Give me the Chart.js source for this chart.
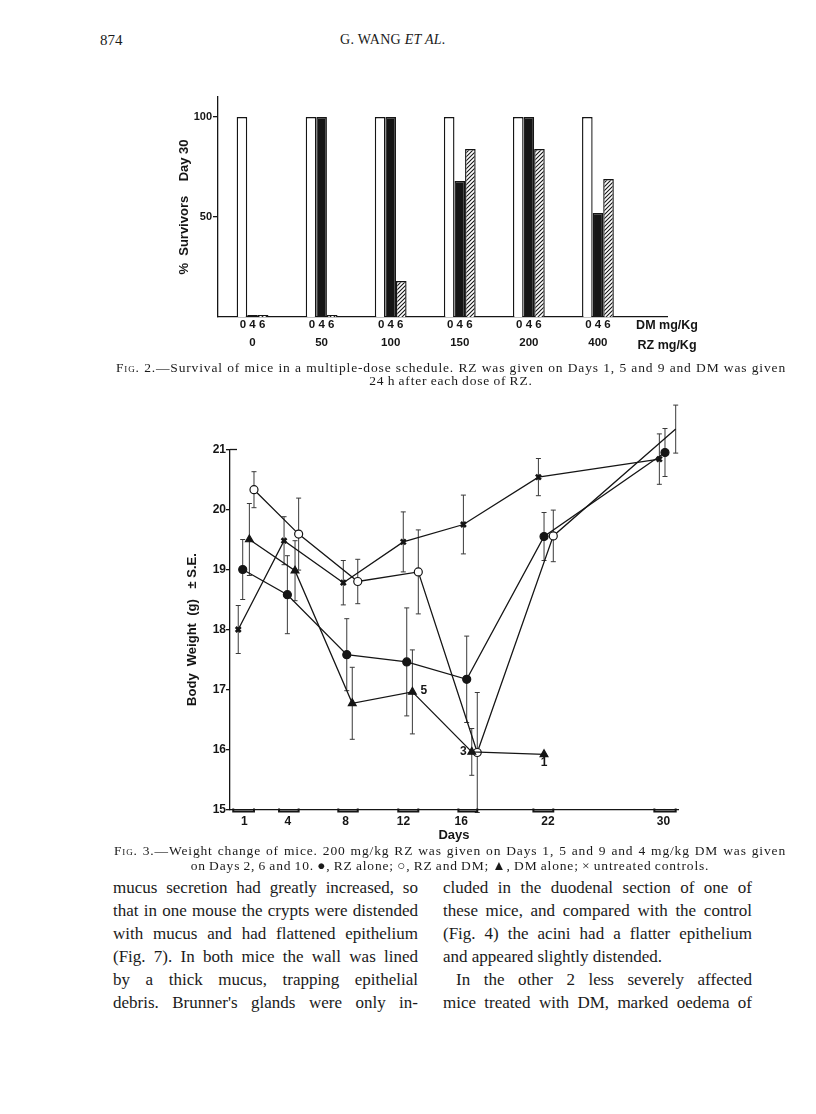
<!DOCTYPE html>
<html>
<head>
<meta charset="utf-8">
<script src="https://cdn.jsdelivr.net/npm/chart.js@4.4.1/dist/chart.umd.min.js"></script>
<style>
  html, body { margin: 0; padding: 0; background: #fff; }
  body { width: 816px; height: 1114px; position: relative; overflow: hidden;
         font-family: "Liberation Serif", "DejaVu Serif", serif; color: #1a1a1a; }
  canvas { position: absolute; }
  .t { position: absolute; white-space: nowrap; }
  .cap { position: absolute; font-size: 13.5px; line-height: 14px; letter-spacing: 0.85px; word-spacing: -1px; }
  .just { text-align: justify; text-align-last: justify; }
  .body { position: absolute; font-size: 17px; line-height: 23px; }
  .body div { text-align: justify; text-align-last: justify; }
  .sc { font-variant: small-caps; }
</style>
</head>
<body>

<div class="t" style="left:100px; top:32px; font-size:15px;">874</div>
<div class="t" style="left:340px; top:32px; font-size:14px; letter-spacing:0.3px;">G. WANG <i>ET AL.</i></div>

<canvas id="fig2" width="560" height="280" style="left:170px; top:85px;"></canvas>

<div class="cap just" style="left:116px; top:361px; width:670px;"><span class="sc">Fig.</span> 2.—Survival of mice in a multiple-dose schedule. RZ was given on Days 1, 5 and 9 and DM was given</div>
<div class="cap" style="left:116px; top:374px; width:670px; text-align:center;">24 h after each dose of RZ.</div>

<canvas id="fig3" width="560" height="455" style="left:150px; top:390px;"></canvas>

<div class="cap just" style="left:114px; top:844px; width:672px;"><span class="sc">Fig.</span> 3.—Weight change of mice. 200 mg/kg RZ was given on Days 1, 5 and 9 and 4 mg/kg DM was given</div>
<div class="cap" style="left:114px; top:859px; width:672px; text-align:center;">on Days 2, 6 and 10. ●, RZ alone; ○, RZ and DM; ▲, DM alone; × untreated controls.</div>

<div class="body" style="left:113px; top:876px; width:305px;">
  <div>mucus secretion had greatly increased, so</div>
  <div>that in one mouse the crypts were distended</div>
  <div>with mucus and had flattened epithelium</div>
  <div>(Fig. 7). In both mice the wall was lined</div>
  <div>by a thick mucus, trapping epithelial</div>
  <div>debris. Brunner's glands were only in-</div>
</div>
<div class="body" style="left:443px; top:876px; width:309px;">
  <div>cluded in the duodenal section of one of</div>
  <div>these mice, and compared with the control</div>
  <div>(Fig. 4) the acini had a flatter epithelium</div>
  <div style="text-align-last:left;">and appeared slightly distended.</div>
  <div style="padding-left:13px;">In the other 2 less severely affected</div>
  <div>mice treated with DM, marked oedema of</div>
</div>

<script>
// Fig. 2 — % survivors on day 30
const rzDoses = ["0", "50", "100", "150", "200", "400"];
const dmDoses = ["0", "4", "6"];
const survDm0 = [100, 100, 100, 100, 100, 100];
const survDm4 = [0, 100, 100, 68, 100, 52];
const survDm6 = [0, 0, 18, 84, 84, 69];
const survTicks = [50, 100];

// Fig. 3 — body weight (g) by day
const days = [1, 4, 8, 12, 16, 22, 30];
const weightTicks = [15, 16, 17, 18, 19, 20, 21];
// points are staggered around each day in the original, these are the plotted day positions
const ctrlX = [0.57, 3.74, 7.84, 11.99, 16.15, 21.34, 29.71];
const ctrlW = [18.0, 19.48, 18.78, 19.46, 19.75, 20.54, 20.84];
const ctrlSE = [0.4, 0.4, 0.37, 0.5, 0.49, 0.31, 0.42];
const rzX = [0.88, 3.97, 8.08, 12.23, 16.38, 21.73, 30.10];
const rzW = [19.0, 18.58, 17.58, 17.46, 17.17, 19.55, 20.95];
const rzSE = [0.5, 0.65, 0.6, 0.9, 0.72, 0.4, 0.4];
const dmX = [1.34, 4.50, 8.46, 12.62, 16.73, 21.73];
const dmW = [19.5, 18.98, 16.77, 16.96, 15.96, 15.92];
const dmSE = [0.6, 0.5, 0.6, 0.7, 0.39, 0];
const dmN = ["", "", "", "5", "3", "1"];
const rzDmX = [1.66, 4.75, 8.84, 13.03, 17.11, 22.37, 30.84];
const rzDmW = [20.33, 19.59, 18.8, 18.96, 15.95, 19.56, 21.34];
const rzDmSE = [0.3, 0.6, 0.37, 0.7, 1.0, 0.43, 0.4];

const ink = "#151515";
const sansBold = (size, lineHeight) => ({ family: "Liberation Sans", weight: "bold", size, lineHeight });

function hatchPattern() {
    const c = document.createElement("canvas");
    c.width = 4; c.height = 4;
    const g = c.getContext("2d");
    g.fillStyle = "#fff";
    g.fillRect(0, 0, 4, 4);
    g.strokeStyle = ink;
    g.lineWidth = 1.1;
    g.beginPath();
    g.moveTo(0, 4); g.lineTo(4, 0);
    g.moveTo(-1, 1); g.lineTo(1, -1);
    g.moveTo(3, 5); g.lineTo(5, 3);
    g.stroke();
    return g.createPattern(c, "repeat");
}

function bars(values, fill) {
    return {
        data: values.map((v, i) => ({ x: i, y: v })),
        backgroundColor: fill,
        borderColor: ink,
        borderWidth: 1.4,
        barPercentage: 1,
        categoryPercentage: 0.46,
        minBarLength: 2
    };
}

new Chart(document.getElementById("fig2"), {
    type: "bar",
    data: {
        datasets: [
            bars(survDm0, "#fff"),
            bars(survDm4, ink),
            bars(survDm6, hatchPattern())
        ]
    },
    options: {
        responsive: false,
        animation: false,
        layout: { padding: { top: 12, right: 63, bottom: 0, left: 0 } },
        plugins: { legend: { display: false }, tooltip: { enabled: false } },
        scales: {
            x: {
                type: "linear",
                min: -0.5,
                max: 6,
                offset: false,
                afterBuildTicks: s => { s.ticks = [0, 1, 2, 3, 4, 5, 6].map(v => ({ value: v })); },
                afterFit: s => { s.height = 48; },
                grid: { display: false },
                border: { color: ink, width: 1.3 },
                ticks: {
                    color: ink,
                    autoSkip: false,
                    maxRotation: 0,
                    padding: -9,
                    font: c => sansBold(c.tick && c.tick.value === 6 ? 12.5 : 11.5, 1.55),
                    callback: v => v < rzDoses.length
                        ? [dmDoses.join(" "), rzDoses[v]]
                        : ["DM mg/Kg", "RZ mg/Kg"]
                }
            },
            y: {
                min: 0,
                max: 110,
                afterBuildTicks: s => { s.ticks = survTicks.map(v => ({ value: v })); },
                afterFit: s => { s.width = 48; },
                border: { color: ink, width: 1.3 },
                grid: { drawOnChartArea: false, color: ink, lineWidth: 1.3, tickLength: 5 },
                ticks: { color: ink, padding: 1, font: sansBold(11) },
                title: {
                    display: true,
                    text: "%  Survivors    Day 30",
                    color: ink,
                    font: sansBold(13),
                    padding: { top: 7, bottom: 0 }
                }
            }
        }
    }
});

// error bars (± S.E.) under the markers
const seBars = {
    id: "seBars",
    beforeDatasetsDraw(chart) {
        const { ctx, scales: { y } } = chart;
        ctx.save();
        ctx.strokeStyle = "#3a3a3a";
        ctx.lineWidth = 1;
        chart.data.datasets.forEach((ds, di) => {
            chart.getDatasetMeta(di).data.forEach((pt, i) => {
                const se = ds.se[i];
                if (!se) return;
                const v = ds.data[i].y;
                const top = y.getPixelForValue(v + se);
                const bottom = y.getPixelForValue(v - se);
                ctx.beginPath();
                ctx.moveTo(pt.x, top); ctx.lineTo(pt.x, bottom);
                ctx.moveTo(pt.x - 2.5, top); ctx.lineTo(pt.x + 2.5, top);
                ctx.moveTo(pt.x - 2.5, bottom); ctx.lineTo(pt.x + 2.5, bottom);
                ctx.stroke();
            });
        });
        ctx.restore();
    }
};

// brackets on the day axis, group counts for DM alone, top cap of the y axis
const dayMarks = {
    id: "dayMarks",
    afterDraw(chart) {
        const { ctx, chartArea, scales: { y } } = chart;
        const base = chartArea.bottom;
        ctx.save();
        ctx.strokeStyle = ink;
        ctx.lineWidth = 2;
        days.forEach((d, i) => {
            const xs = [];
            chart.data.datasets.forEach((ds, di) => {
                const pt = chart.getDatasetMeta(di).data[i];
                if (pt) xs.push(pt.x);
            });
            const x0 = Math.min(...xs) - 5;
            const x1 = Math.max(...xs);
            ctx.beginPath();
            ctx.moveTo(x0, base - 1); ctx.lineTo(x0, base + 2);
            ctx.lineTo(x1, base + 2); ctx.lineTo(x1, base - 1);
            ctx.stroke();
        });

        ctx.lineWidth = 1.3;
        ctx.beginPath();
        ctx.moveTo(chartArea.left, y.getPixelForValue(21));
        ctx.lineTo(chartArea.left + 7, y.getPixelForValue(21));
        ctx.stroke();

        const dmIndex = chart.data.datasets.findIndex(ds => ds.label === "DM alone");
        const place = { 3: [8, -1, "left"], 4: [-5, 0, "right"], 5: [0, 8, "center"] };
        ctx.fillStyle = ink;
        ctx.font = "bold 12px 'Liberation Sans'";
        ctx.textBaseline = "middle";
        chart.getDatasetMeta(dmIndex).data.forEach((pt, i) => {
            if (!dmN[i]) return;
            const [dx, dy, align] = place[i];
            ctx.textAlign = align;
            ctx.fillText(dmN[i], pt.x + dx, pt.y + dy);
        });
        ctx.restore();
    }
};

function series(label, xs, ys, se, style) {
    return Object.assign({
        label,
        se,
        data: xs.map((x, i) => ({ x, y: ys[i] })),
        showLine: true,
        tension: 0,
        clip: false,
        borderColor: ink,
        borderWidth: 1.3,
        pointBorderColor: ink,
        pointBackgroundColor: ink,
        pointBorderWidth: 1.2,
        pointRadius: 4
    }, style);
}

new Chart(document.getElementById("fig3"), {
    type: "scatter",
    data: {
        datasets: [
            series("untreated controls", ctrlX, ctrlW, ctrlSE, { pointStyle: "crossRot", pointRadius: 3.5, pointBorderWidth: 2.6 }),
            series("RZ alone", rzX, rzW, rzSE, { pointStyle: "circle" }),
            series("DM alone", dmX, dmW, dmSE, { pointStyle: "triangle", pointRadius: 4.5 }),
            series("RZ and DM", rzDmX, rzDmW, rzDmSE, { pointStyle: "circle", pointBackgroundColor: "#fff" })
        ]
    },
    options: {
        responsive: false,
        animation: false,
        layout: { padding: { top: 59.5, right: 32, bottom: 0, left: 0 } },
        plugins: { legend: { display: false }, tooltip: { enabled: false } },
        scales: {
            x: {
                type: "linear",
                min: 0,
                max: 31,
                afterBuildTicks: s => { s.ticks = days.map(v => ({ value: v })); },
                afterFit: s => { s.height = 35.5; },
                grid: { display: false },
                border: { color: ink, width: 1.3 },
                ticks: { color: ink, autoSkip: false, maxRotation: 0, padding: -3, font: sansBold(12) },
                title: { display: true, text: "Days", color: ink, font: sansBold(13), padding: { top: 0, bottom: 2 } }
            },
            y: {
                min: 15,
                max: 21,
                afterBuildTicks: s => { s.ticks = weightTicks.map(v => ({ value: v })); },
                afterFit: s => { s.width = 80; },
                border: { color: ink, width: 1.3 },
                grid: { drawOnChartArea: false, color: ink, lineWidth: 1.3, tickLength: 4 },
                ticks: { color: ink, padding: 0, font: sansBold(12) },
                title: {
                    display: true,
                    text: "Body  Weight  (g)   ± S.E.",
                    color: ink,
                    font: sansBold(13),
                    padding: { top: 35, bottom: 0 }
                }
            }
        }
    },
    plugins: [seBars, dayMarks]
});
</script>
</body>
</html>
